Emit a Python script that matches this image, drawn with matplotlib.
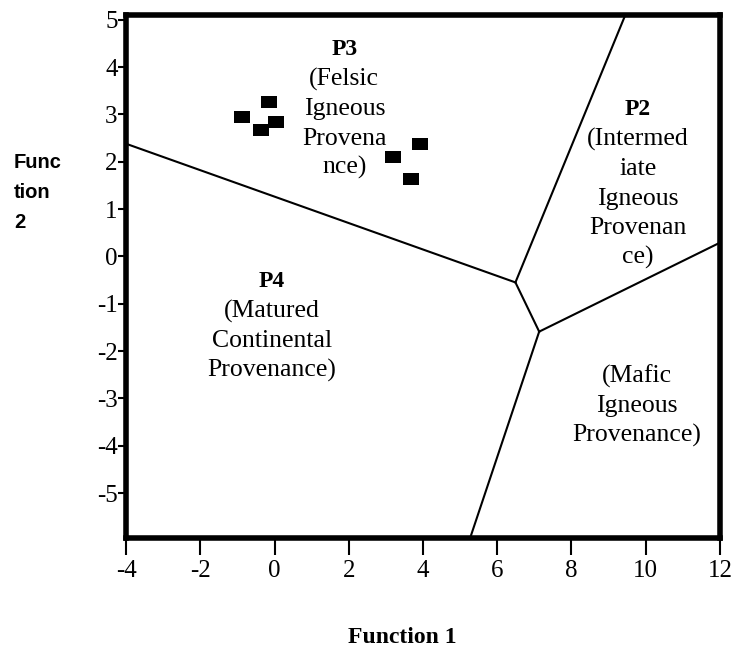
import matplotlib.pyplot as plt
from matplotlib.path import Path

plt.rcParams['font.family'] = ['Liberation Serif', 'DejaVu Serif']
plt.rcParams['axes.unicode_minus'] = False

# ---------- data ----------
# sample scores (Function 1, Function 2)
f1 = [-0.87, -0.15, -0.36, 0.04, 3.20, 3.92, 3.68]
f2 = [2.95, 3.26, 2.67, 2.84, 2.10, 2.38, 1.64]

# field boundaries, each as (x0, y0, x1, y1)
j1 = (6.49, -0.55)
j2 = (7.13, -1.59)
boundaries = [
    (-4.0, 2.38) + j1,
    (9.45, 5.10) + j1,
    j1 + j2,
    j2 + (12.0, 0.29),
    j2 + (5.27, -5.95),
]

xticks = [-4, -2, 0, 2, 4, 6, 8, 10, 12]
yticks = [-5, -4, -3, -2, -1, 0, 1, 2, 3, 4, 5]

# field labels: (x, baseline y, bold title, body lines)
fields = [
    (1.88, 4.26, 'P3', ['(Felsic', 'Igneous', 'Provena', 'nce)']),
    (9.79, 2.99, 'P2', ['(Intermed', 'iate', 'Igneous', 'Provenan', 'ce)']),
    (-0.07, -0.64, 'P4', ['(Matured', 'Continental', 'Provenance)']),
    (9.76, -2.66, None, ['(Mafic', 'Igneous', 'Provenance)']),
]

# ---------- plot ----------
fig = plt.figure(figsize=(7.52, 6.47), dpi=100)
ax = fig.add_axes([0.1676, 0.1685, 0.7898, 0.8083])

for x0, y0, x1, y1 in boundaries:
    ax.plot([x0, x1], [y0, y1], color='black', lw=1.5, clip_on=True)

rect = Path([(-0.5, -0.38), (0.5, -0.38), (0.5, 0.38), (-0.5, 0.38), (-0.5, -0.38)],
            [Path.MOVETO, Path.LINETO, Path.LINETO, Path.LINETO, Path.CLOSEPOLY])
ax.plot(f1, f2, ls='none', marker=rect, ms=11, color='black', mew=0)

for x, y, title, lines in fields:
    gap = 0
    if title:
        ax.annotate(title, (x, y), ha='center', va='baseline',
                    fontsize=17, fontweight='bold')
        gap = 22.3
    for i, line in enumerate(lines):
        ax.annotate(line, (x, y), xytext=(0, -(gap + i * 21.2)),
                    textcoords='offset points', ha='center', va='baseline',
                    fontsize=18.5)

ax.set_xlim(-4, 12)
ax.set_ylim(-5.95, 5.1)
ax.set_xticks(xticks)
ax.set_yticks(yticks)
ax.tick_params(axis='x', direction='out', length=12, width=1.5, pad=4, labelsize=18)
ax.tick_params(axis='y', direction='out', length=6, width=1.5, pad=0, labelsize=18)
for s in ax.spines.values():
    s.set_linewidth(4)

# y label broken over three lines, as in the original
for i, part in enumerate(['Func', 'tion', '2']):
    fig.text(14 / 752, 1 - (168 + 30 * i) / 647, part, ha='left', va='baseline',
             fontsize=14.5, fontweight='bold', family='Liberation Sans')
fig.text(402 / 752, 1 - 643 / 647, 'Function 1', ha='center', va='baseline',
         fontsize=17, fontweight='bold')

fig.savefig('out.png', dpi=100)
